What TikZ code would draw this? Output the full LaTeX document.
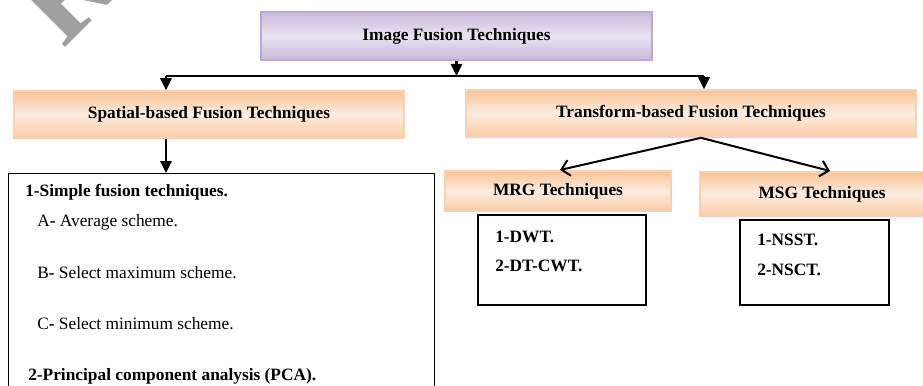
\documentclass[tikz,border=0pt,12pt]{standalone}
\usepackage{fontspec}
\setmainfont{Liberation Serif}
\usetikzlibrary{arrows.meta,positioning}

\definecolor{peach}{RGB}{248,196,152}
\definecolor{peachlight}{RGB}{253,236,224}
\definecolor{peachline}{RGB}{250,208,176}
\definecolor{lilac}{RGB}{200,186,219}
\definecolor{lilaclight}{RGB}{232,227,240}
\definecolor{lilacline}{RGB}{186,170,212}

\begin{document}
\begin{tikzpicture}[
    x=0.75pt, y=-0.75pt,
    head/.style={rectangle, draw=lilacline, line width=1.5pt, top color=lilac, bottom color=lilac, middle color=lilaclight, minimum width=293pt, minimum height=36pt, font=\bfseries},
    group/.style={rectangle, draw=peachline, line width=1.5pt, top color=peach, bottom color=peach!85, middle color=peachlight, minimum height=35pt, font=\bfseries},
    listbox/.style={rectangle, draw, line width=1.1pt},
    item/.style={anchor=west, inner sep=0pt},
    flow/.style={-{Triangle[length=9pt,width=8.5pt]}, line width=1.6pt},
    split/.style={-{Straight Barb[length=6pt,width=12pt]}, line width=1.5pt}
]
    \fontsize{13pt}{15.6pt}\selectfont
    \useasboundingbox (0,0) rectangle (923,385);

    % Watermark letter in the corner
    \begin{scope}
        \clip (0,0) rectangle (923,385);
        \node[text=gray!75, font=\fontsize{90}{90}\selectfont\bfseries, rotate=45, anchor=base west, inner sep=0pt] (mark) at (63,50) {R};
    \end{scope}

    % Root box
    \node[head] (ift) at (456.5,36) {Image Fusion Techniques};

    % Two families
    \node[group, minimum width=292.5pt] (spatial) at (209,114.5) {Spatial-based Fusion Techniques};
    \node[group, minimum width=337.5pt] (transform) at (691,113.5) {Transform-based Fusion Techniques};

    % Transform sub-groups
    \node[group, minimum width=169.5pt, minimum height=30pt] (mrg) at (558,191) {MRG Techniques};
    \node[group, minimum width=183pt, minimum height=33pt] (msg) at (822,194) {MSG Techniques};

    % Spatial list
    \node[listbox, anchor=north west, minimum width=319.5pt, minimum height=170pt] (simple) at (8,173) {};
    \node[item, font=\bfseries] (s1) at (25,192) {1-Simple fusion techniques.};
    \node[item] (sa) at (37,222) {A\textbf{-} Average scheme.};
    \node[item] (sb) at (37,273) {B\textbf{-} Select maximum scheme.};
    \node[item] (sc) at (37,324) {C\textbf{-} Select minimum scheme.};
    \node[item, font=\bfseries] (s2) at (28,376) {2-Principal component analysis (PCA).};

    % MRG list
    \node[listbox, minimum width=126pt, minimum height=67.5pt] (mrglist) at (562,260) {};
    \node[item, font=\bfseries] (m1) at (495,237) {1-DWT.};
    \node[item, font=\bfseries] (m2) at (495,266) {2-DT-CWT.};

    % MSG list
    \node[listbox, minimum width=111.75pt, minimum height=63.75pt] (msglist) at (814.5,262.5) {};
    \node[item, font=\bfseries] (n1) at (757,240) {1-NSST.};
    \node[item, font=\bfseries] (n2) at (757,270) {2-NSCT.};

    % Arrows
    \coordinate (forkL) at (166,76);
    \coordinate (forkR) at (704,76);
    \coordinate (apex) at ([xshift=7.5pt]transform.south);
    \draw[line width=1.6pt] (forkL) -- (forkR);
    \draw[flow] (ift.south) -- (ift.south |- forkL);
    \draw[flow] (forkL) -- (forkL |- spatial.north);
    \draw[flow] (forkR) -- (forkR |- transform.north);
    \draw[flow] (forkL |- spatial.south) -- (forkL |- simple.north);
    \draw[split] (apex) -- ([xshift=1.5pt]mrg.north);
    \draw[split] (apex) -- ([xshift=6pt]msg.north);
\end{tikzpicture}
\end{document}
